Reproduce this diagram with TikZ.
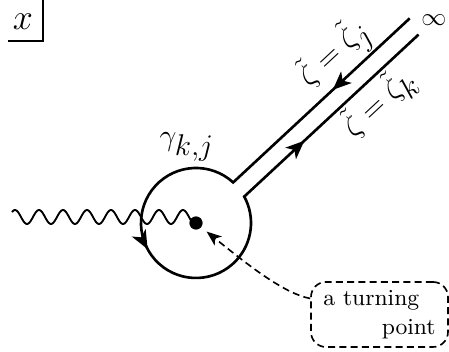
\documentclass[tikz,border=0pt]{standalone}
\usetikzlibrary{arrows.meta,calc,decorations.markings}
\begin{document}
\begin{tikzpicture}[x=0.4pt,y=0.4pt,
  contour/.style={line width=1.05pt},
  bighead/.tip={Stealth[length=7.4pt,width=6.2pt,inset=2pt]},
  smallhead/.tip={Stealth[length=6pt,width=4.6pt,inset=1.6pt]},
  dashline/.style={line width=0.65pt,dash pattern=on 2.8pt off 1.7pt},
  lbl/.style={font=\fontsize{11.5}{13}\selectfont}]
\useasboundingbox (0,0) rectangle (449,352);

% centre of the loop and turning point
\coordinate (C) at (196,129);
\coordinate (U0) at ($(C)+(47.5:22pt)$);
\coordinate (U1) at ($(U0)+(42.9:96.4pt)$);
\coordinate (L0) at ($(C)+(28.7:22pt)$);
\coordinate (L1) at ($(L0)+(42.9:95.2pt)$);

% wavy cut
\draw[line width=0.75pt] plot[domain=12:195,samples=160,smooth] (\x,{135-7*cos(15*(\x-195))});

% contour
\draw[contour, postaction={decorate, decoration={markings,
    mark=at position 42pt with {\arrow{bighead}},
    mark=at position 158pt with {\arrow{bighead}},
    mark=at position 260pt with {\arrow{bighead}}}}]
  (U1) -- (U0) arc[start angle=47.5, end angle=388.7, radius=22pt] -- (L1);

\node[circle, fill, inner sep=0pt, minimum size=5.3pt] (dot) at (C) {};

% labels
\node[lbl] (gam) at (187,205) {$\gamma_{\textstyle k{,}j}$};
\node[lbl, rotate=42.9] (zj) at (335,297) {$\tilde\zeta=\tilde\zeta_{\textstyle j}$};
\node[lbl, rotate=42.9] (zk) at (379,249) {$\tilde\zeta=\tilde\zeta_{\textstyle k}$};
\node[font=\fontsize{10.2}{12}\selectfont] (inf) at (434,332) {$\infty$};

% x corner box
\node[font=\Large] (xl) at (23,330) {$x$};
\draw[line width=1pt] (8,311) -| (43,352);

% turning point callout
\node[draw, dashline, rounded corners=6pt, minimum width=54.8pt, minimum height=26pt,
      inner sep=0pt, align=left, font=\fontsize{9.2}{11.6}\selectfont]
      (tp) at (379.5,37.5) {a turning\\\hspace*{23.4pt}point};
\draw[dashline, -{smallhead}, shorten >=2.6pt] (tp.167) to[out=169, in=-39, out looseness=0.5, in looseness=1.3] (dot);
\end{tikzpicture}
\end{document}
